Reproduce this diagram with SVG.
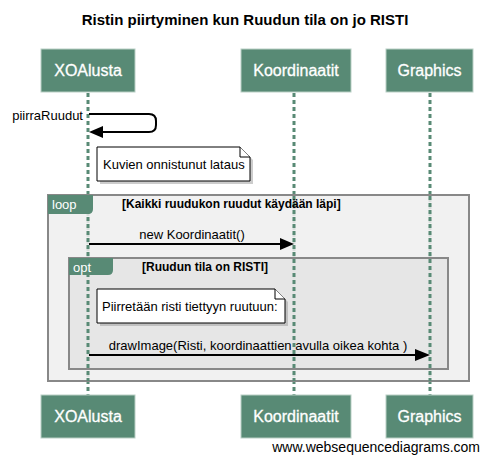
<svg xmlns="http://www.w3.org/2000/svg" width="490" height="463" viewBox="0 0 490 463">
<style>
text{font-family:"Liberation Sans",Arial,sans-serif;fill:#000}
.title{font-size:15px;font-weight:bold}
.pbox{fill:#588a75;stroke:#b9cfc5;stroke-width:1}
.ptxt{font-size:16px;fill:#fff;text-anchor:middle;stroke:#fff;stroke-width:0.3}
.life{stroke:#588a75;stroke-width:3;stroke-dasharray:4,3;fill:none}
.msg{stroke:#000;stroke-width:2;fill:none}
.head{fill:#000}
.mtxt{font-size:13px;text-anchor:middle}
.note{fill:#fff;stroke:#000;stroke-width:1}
.shadow{fill:#999;opacity:0.5}
.ntxt{font-size:13px}
.frame{stroke:#888;stroke-width:2}
.tab{fill:#588a75}
.tabtxt{font-size:13px;fill:#fff}
.cond{font-size:12px;font-weight:bold}
.wm{font-size:14px;text-anchor:end}
</style>
<text class="title" x="245" y="25" text-anchor="middle">Ristin piirtyminen kun Ruudun tila on jo RISTI</text>

<g id="lifelines">
<line class="life" x1="88" y1="93" x2="88" y2="395"/>
<line class="life" x1="294" y1="93" x2="294" y2="395"/>
<line class="life" x1="430" y1="93" x2="430" y2="395"/>
</g>

<g id="loop-frame">
<rect class="frame" x="48" y="195" width="421" height="186" fill="#eeeeee" fill-opacity="0.85"/>
</g>
<g id="opt-frame">
<rect class="frame" x="69" y="258" width="379" height="111" fill="#e4e4e4" fill-opacity="0.8"/>
</g>

<g id="lifelines-over">
<line class="life" x1="88" y1="196" x2="88" y2="381"/>
<line class="life" x1="294" y1="196" x2="294" y2="381"/>
<line class="life" x1="430" y1="196" x2="430" y2="381"/>
</g>

<g id="loop">
<path class="tab" d="M48,195 H93 V209 Q93,214 88,214 H48 Z"/>
<text class="tabtxt" x="52" y="209">loop</text>
<text class="cond" x="122" y="208">[Kaikki ruudukon ruudut käydään läpi]</text>
</g>

<g id="opt">
<path class="tab" d="M69,258 H113 V270 Q113,275 108,275 H69 Z"/>
<text class="tabtxt" x="73" y="272">opt</text>
<text class="cond" x="142" y="271">[Ruudun tila on RISTI]</text>
</g>

<g id="participants-top">
<g id="XOAlusta-top"><rect class="pbox" x="41" y="49" width="94" height="43"/><text class="ptxt" x="88" y="76">XOAlusta</text></g>
<g id="Koordinaatit-top"><rect class="pbox" x="241" y="49" width="110" height="43"/><text class="ptxt" x="296" y="76">Koordinaatit</text></g>
<g id="Graphics-top"><rect class="pbox" x="386" y="49" width="87" height="43"/><text class="ptxt" x="429.5" y="76">Graphics</text></g>
</g>

<g id="participants-bottom">
<g id="XOAlusta-bottom"><rect class="pbox" x="41" y="395" width="94" height="43"/><text class="ptxt" x="88" y="422">XOAlusta</text></g>
<g id="Koordinaatit-bottom"><rect class="pbox" x="241" y="395" width="110" height="43"/><text class="ptxt" x="296" y="422">Koordinaatit</text></g>
<g id="Graphics-bottom"><rect class="pbox" x="386" y="395" width="87" height="43"/><text class="ptxt" x="429.5" y="422">Graphics</text></g>
</g>

<g id="connectors">
<path class="msg" d="M89,114 H149 Q156,114 156,121 V125 Q156,132 149,132 H100"/>
<polygon class="head" points="89,132 103,126 103,138"/>
<text x="83" y="120" font-size="13" text-anchor="end">piirraRuudut</text>

<line class="msg" x1="89" y1="244" x2="282" y2="244"/>
<polygon class="head" points="294,244 280,238 280,250"/>
<text class="mtxt" x="192" y="239">new Koordinaatit()</text>

<line class="msg" x1="89" y1="355" x2="418" y2="355"/>
<polygon class="head" points="430,355 415,349 415,361"/>
<text class="mtxt" x="258" y="350">drawImage(Risti, koordinaattien avulla oikea kohta )</text>
</g>

<g id="note1">
<path class="shadow" d="M100,150 H243 L253,160 V184 H100 Z"/>
<path class="note" d="M97,147 H240 L250,157 V181 H97 Z"/>
<path class="note" d="M240,147 V157 H250" fill="none"/>
<text class="ntxt" x="103" y="169">Kuvien onnistunut lataus</text>
</g>

<g id="note2">
<path class="shadow" d="M100,292 H278 L288,302 V326 H100 Z"/>
<path class="note" d="M97,289 H275 L285,299 V323 H97 Z"/>
<path class="note" d="M275,289 V299 H285" fill="none"/>
<text class="ntxt" x="102" y="311">Piirretään risti tiettyyn ruutuun:</text>
</g>

<text class="wm" x="480" y="452">www.websequencediagrams.com</text>
</svg>
